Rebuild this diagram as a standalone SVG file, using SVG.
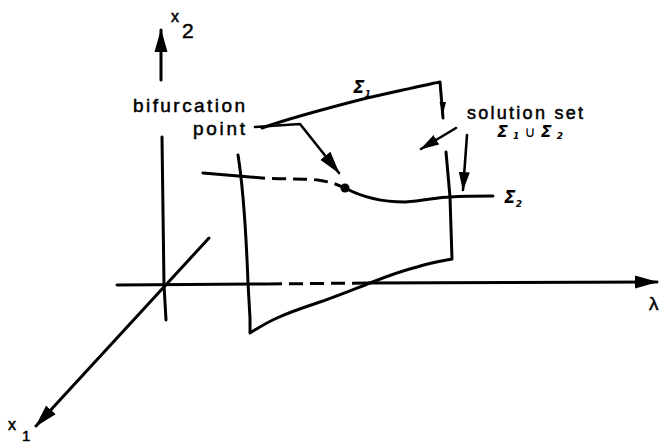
<svg xmlns="http://www.w3.org/2000/svg" width="663" height="444" viewBox="0 0 663 444">
<style>
.ln{fill:none;stroke:#000;stroke-width:3;stroke-linecap:round;stroke-linejoin:round}
.th{stroke-width:2.6}
.ds{stroke-dasharray:14 7;stroke-linecap:butt}
.t{font-family:"Liberation Sans",Arial,sans-serif;fill:#000;stroke:#000;stroke-width:0.5}
.s{font-family:"DejaVu Sans","Liberation Sans",sans-serif;font-weight:bold;font-style:italic;fill:#000}
</style>
<defs>
<marker id="ah" markerUnits="userSpaceOnUse" markerWidth="24" markerHeight="14" refX="22" refY="7" orient="auto">
<path d="M0,0.5 L23,7 L0,13.5 z" fill="#000"/>
</marker>
<marker id="ahs" markerUnits="userSpaceOnUse" markerWidth="20" markerHeight="12" refX="18" refY="6" orient="auto">
<path d="M0,0.5 L19,6 L0,11.5 z" fill="#000"/>
</marker>
</defs>
<rect width="663" height="444" fill="#fff"/>

<g id="axes">
<g id="axis-x2">
<path class="ln" d="M161,80 L161,30" marker-end="url(#ah)"/>
<path class="ln" d="M162,137 L164,285 L166,320"/>
</g>
<g id="axis-lambda">
<path class="ln" d="M117,285 L267,284"/>
<path class="ln ds" d="M268,284 L367,283"/>
<path class="ln" d="M367,283 L657,282" marker-end="url(#ah)"/>
</g>
<g id="axis-x1">
<path class="ln" d="M209,238 L36,426" marker-end="url(#ah)"/>
</g>
</g>

<g id="surface">
<path class="ln" d="M238,155 C242,180 246,230 248,283 L250,318 L250,333 C258,328 268,322 277,318 C290,312 305,307 317,303 C335,297 352,290 370,283 C390,275 405,270 417,267 C430,263 442,261 452,259 L450,197 L446,152"/>
<path class="ln" d="M262,128 C290,118 320,110 367,98 C395,92 420,86 440,82 L443,118"/>
<path d="M439.5,102 L446,102 L443,114 z" fill="#000"/>
</g>

<g id="sigma2-curve">
<path class="ln" d="M203,173 L250,177"/>
<path class="ln ds" d="M251,177 C280,180 300,178 318,180 C330,182 337,184 344,188"/>
<path class="ln" d="M345,188 C360,196 380,202 405,202 C425,201 437,197 450,197 C465,196 480,196 493,196"/>
<circle id="bifurcation-dot" cx="345" cy="188" r="4.5" fill="#000"/>
</g>

<g id="connectors">
<path class="ln th" d="M255,127 L300,124 L339,173" marker-end="url(#ah)"/>
<path class="ln th" d="M456,128 L421,149" marker-end="url(#ahs)"/>
<path class="ln th" d="M467,135 L463,190" marker-end="url(#ahs)"/>
</g>

<g id="labels">
<g id="label-x2">
<text class="t" x="171" y="22" font-size="16">x</text>
<text class="t" x="182" y="38" font-size="21">2</text>
</g>
<g id="label-x1">
<text class="t" x="8" y="430" font-size="16">x</text>
<text class="t" x="22" y="441" font-size="15">1</text>
</g>
<text id="label-lambda" class="t" x="649" y="310" font-size="19">λ</text>
<g id="label-bifurcation">
<text class="t" x="133" y="112" font-size="19" textLength="112" lengthAdjust="spacing">bifurcation</text>
<text class="t" x="193" y="135" font-size="19" textLength="52" lengthAdjust="spacing">point</text>
</g>
<g id="label-solution">
<text class="t" x="467" y="119" font-size="18" textLength="116" lengthAdjust="spacing">solution set</text>
<text class="s" x="497" y="137" font-size="16" textLength="66" lengthAdjust="spacing">Σ<tspan font-size="9" dy="2">1</tspan><tspan font-weight="normal" font-style="normal" font-size="15" dy="-2">∪</tspan>Σ<tspan font-size="9" dy="2">2</tspan></text>
</g>
<text id="label-sigma1" class="s" x="353" y="93" font-size="17">Σ<tspan font-size="9" dy="4">1</tspan></text>
<text id="label-sigma2" class="s" x="504" y="203" font-size="17">Σ<tspan font-size="9" dy="4">2</tspan></text>
</g>
</svg>
